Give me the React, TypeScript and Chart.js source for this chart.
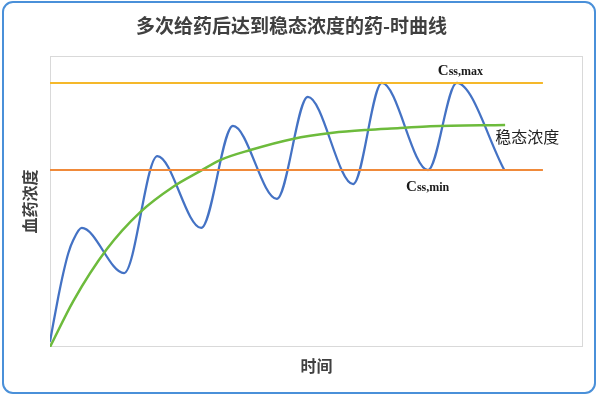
import React, { useEffect, useRef } from "react";
import { Chart, registerables } from "chart.js";

Chart.register(...registerables);

// time (arbitrary units, one dosing interval = 10)
const blueT = [0, 0.44, 1.1, 1.76, 2.42, 3.08, 4.2, 9.8, 14.2, 20.0, 24.2, 30.0, 34.1, 40.1, 43.9, 50.0, 53.8, 60.1];
const blueC = [2, 9, 19, 28, 35.5, 40.5, 45.1, 28.0, 72.3, 45.1, 83.7, 56.1, 94.7, 61.7, 100, 67, 100, 67];

const greenT = [0, 3.1, 7.5, 11.9, 16.3, 19.8, 22.5, 26.5, 32.1, 37.4, 41.9, 46.3, 50.3, 60.2];
const greenC = [0, 17.5, 37, 51, 60.7, 66.5, 70.8, 74.6, 78.8, 81.1, 82.2, 82.9, 83.6, 84.1];

const cssMax = 100;
const cssMin = 67;
const lineT = [0, 65.2];

const title = "多次给药后达到稳态浓度的药-时曲线";
const xTitle = "时间";
const yTitle = "血药浓度";
const steadyLabel = "稳态浓度";

const toPts = (t: number[], c: number[]) => t.map((x, i) => ({ x, y: c[i] }));

export default function App() {
  const ref = useRef<HTMLCanvasElement>(null);
  useEffect(() => {
    if (!ref.current) return;
    const annot = {
      id: "annot",
      beforeDatasetsDraw(chart: any) {
        const { ctx, chartArea: a } = chart;
        ctx.save();
        ctx.strokeStyle = "#D9D9D9";
        ctx.lineWidth = 1;
        ctx.strokeRect(a.left + 0.5, a.top + 0.5, a.right - a.left - 1, a.bottom - a.top - 1);
        ctx.restore();
      },
      afterDatasetsDraw(chart: any) {
        const { ctx, scales } = chart;
        const xs = scales.x, ys = scales.y;
        const drawC = (sub: string, x: number, y: number) => {
          ctx.font = "bold 15px 'Liberation Serif'";
          ctx.fillStyle = "#1a1a1a";
          ctx.textBaseline = "alphabetic";
          ctx.textAlign = "left";
          ctx.fillText("C", x, y);
          const w = ctx.measureText("C").width;
          ctx.font = "bold 12px 'Liberation Serif'";
          ctx.fillText(sub, x + w, y);
        };
        ctx.save();
        drawC("ss,max", xs.getPixelForValue(51.3), ys.getPixelForValue(cssMax) - 8);
        drawC("ss,min", xs.getPixelForValue(47.1), ys.getPixelForValue(cssMin) + 21);
        ctx.font = "16px 'Noto Sans CJK SC'";
        ctx.fillStyle = "#222";
        ctx.textBaseline = "middle";
        ctx.textAlign = "left";
        ctx.fillText(steadyLabel, xs.getPixelForValue(58.9), ys.getPixelForValue(greenC[greenC.length - 1]) + 12);
        ctx.restore();
      },
    };
    const chart = new Chart(ref.current, {
      type: "line",
      data: {
        datasets: [
          {
            label: "Css,max",
            data: toPts(lineT, [cssMax, cssMax]),
            borderColor: "#F5B82A",
            borderWidth: 2,
            pointRadius: 0,
          },
          {
            label: "Css,min",
            data: toPts(lineT, [cssMin, cssMin]),
            borderColor: "#F08A3A",
            borderWidth: 2,
            pointRadius: 0,
          },
          {
            label: "稳态浓度",
            data: toPts(greenT, greenC),
            borderColor: "#6DBB3C",
            borderWidth: 2.5,
            pointRadius: 0,
            cubicInterpolationMode: "monotone",
          },
          {
            label: "血药浓度",
            data: toPts(blueT, blueC),
            borderColor: "#4472C4",
            borderWidth: 2.25,
            pointRadius: 0,
            cubicInterpolationMode: "monotone",
          },
        ],
      },
      options: {
        animation: false,
        responsive: false,
        layout: { padding: { top: 6, right: 17, bottom: 0, left: 0 } },
        plugins: {
          legend: { display: false },
          tooltip: { enabled: false },
          title: {
            display: true,
            text: title,
            color: "#404040",
            font: { family: "'Noto Sans CJK SC'", size: 19, weight: "bold", lineHeight: 1.2 },
            padding: { top: 8, bottom: 19.2 },
          },
        },
        scales: {
          x: {
            type: "linear",
            min: 0,
            max: 70.5,
            ticks: { display: false },
            grid: { display: false },
            border: { display: false },
            title: {
              display: true,
              text: xTitle,
              color: "#404040",
              font: { family: "'Noto Sans CJK SC'", size: 16, weight: "bold", lineHeight: 1.2 },
              padding: { top: 0, bottom: 20.4 },
            },
            afterFit(s: any) {
              s.height = 49;
            },
          },
          y: {
            min: 0,
            max: 110.2,
            ticks: { display: false },
            grid: { display: false },
            border: { display: false },
            title: {
              display: true,
              text: yTitle,
              color: "#404040",
              font: { family: "'Noto Sans CJK SC'", size: 16, weight: "bold", lineHeight: 1.2 },
              padding: { top: 20.4, bottom: 0 },
            },
            afterFit(s: any) {
              s.width = 50;
            },
          },
        },
      },
      plugins: [annot],
    } as any);
    return () => chart.destroy();
  }, []);
  return (
    <div style={{ position: "fixed", left: 0, top: 0, width: 600, height: 396, background: "#fff" }}>
      <div
        style={{
          position: "absolute",
          left: 2,
          top: 1,
          width: 590,
          height: 389,
          border: "2px solid #4A90D9",
          borderRadius: 11,
          boxSizing: "content-box",
        }}
      />
      <canvas ref={ref} width={600} height={396} style={{ position: "absolute", left: 0, top: 0 }} />
    </div>
  );
}
